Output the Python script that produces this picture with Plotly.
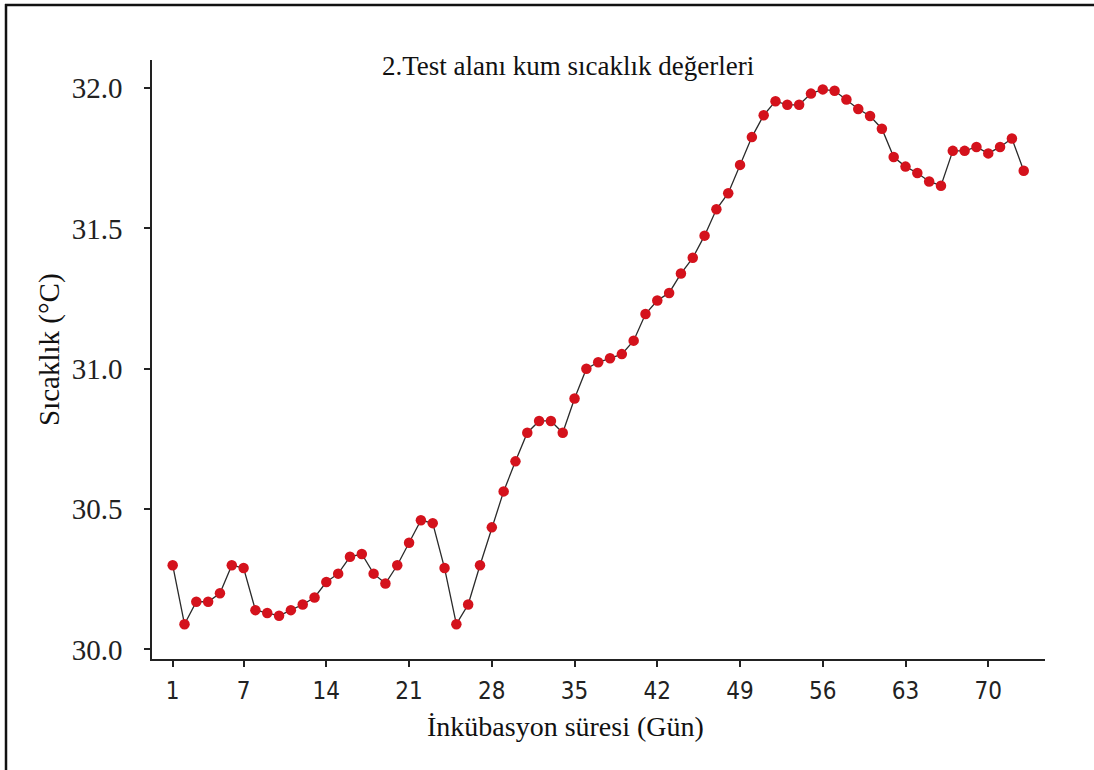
import plotly.graph_objects as go

days = list(range(1, 74))
temps = [
    30.30, 30.09, 30.17, 30.17, 30.20, 30.30, 30.29, 30.14, 30.13, 30.12,
    30.14, 30.16, 30.185, 30.24, 30.27, 30.33, 30.34, 30.27, 30.235, 30.30,
    30.38, 30.46, 30.45, 30.29, 30.09, 30.16, 30.30, 30.435, 30.563, 30.67,
    30.772, 30.814, 30.814, 30.772, 30.894, 31.00, 31.023, 31.037, 31.052, 31.10,
    31.195, 31.243, 31.27, 31.339, 31.395, 31.474, 31.568, 31.625, 31.726, 31.825,
    31.903, 31.953, 31.94, 31.94, 31.98, 31.995, 31.99, 31.959, 31.925, 31.90,
    31.855, 31.754, 31.72, 31.697, 31.667, 31.652, 31.776, 31.776, 31.79, 31.767,
    31.79, 31.82, 31.705,
]
x_ticks = [1, 7, 14, 21, 28, 35, 42, 49, 56, 63, 70]
y_ticks = [30.0, 30.5, 31.0, 31.5, 32.0]

title_text = "2.Test alanı kum sıcaklık değerleri"
x_title = "İnkübasyon süresi (Gün)"
y_title = "Sıcaklık (°C)"

W, H = 1094, 770
L, R, T, B = 152, 49, 60, 111
pw, ph = W - L - R, H - T - B

def px(xp):
    return (xp - L) / pw

def py(yp):
    return (H - B - yp) / ph

fig = go.Figure()
fig.add_trace(go.Scatter(
    x=days, y=temps, mode="lines+markers",
    line=dict(color="#2a2a2a", width=1.3),
    marker=dict(color="#d4121c", size=10.5, line=dict(width=0)),
    hoverinfo="x+y", showlegend=False,
))

fig.update_layout(
    width=W, height=H, autosize=False,
    margin=dict(l=L, r=R, t=T, b=B, pad=0),
    paper_bgcolor="white", plot_bgcolor="white",
    xaxis=dict(
        range=[-0.75, 74.8], tickmode="array", tickvals=x_ticks,
        ticktext=[str(v) for v in x_ticks],
        showgrid=False, zeroline=False, showline=True, linecolor="#222",
        linewidth=1.5, ticks="outside", ticklen=6, tickwidth=1.5, tickcolor="#222",
        tickfont=dict(family="DejaVu Sans Condensed, DejaVu Sans", size=24, color="#222"),
        ticklabelstandoff=3,
    ),
    yaxis=dict(
        range=[29.966, 32.0997], tickmode="array", tickvals=y_ticks,
        ticktext=["%.1f" % v for v in y_ticks],
        showgrid=False, zeroline=False, showline=True, linecolor="#222",
        linewidth=1.5, ticks="outside", ticklen=6, tickwidth=1.5, tickcolor="#222",
        tickfont=dict(family="Liberation Serif", size=29, color="#222"),
        ticklabelstandoff=16,
    ),
    annotations=[
        dict(text=title_text, x=px(568), y=py(66), xref="paper", yref="paper",
             xanchor="center", yanchor="middle", showarrow=False,
             font=dict(family="Liberation Serif", size=27, color="#111")),
        dict(text=x_title, x=px(565), y=py(726), xref="paper", yref="paper",
             xanchor="center", yanchor="middle", showarrow=False,
             font=dict(family="Liberation Serif", size=28, color="#111")),
        dict(text=y_title, x=px(50), y=py(350), xref="paper", yref="paper",
             xanchor="center", yanchor="middle", showarrow=False, textangle=-90,
             font=dict(family="Liberation Serif", size=29, color="#111")),
    ],
    shapes=[
        dict(type="line", xref="paper", yref="paper", x0=px(5), x1=px(1100),
             y0=py(5), y1=py(5), line=dict(color="#111", width=2.5)),
        dict(type="line", xref="paper", yref="paper", x0=px(6), x1=px(6),
             y0=py(4), y1=py(775), line=dict(color="#111", width=2.5)),
    ],
)

fig.write_html("out.html", config={"displayModeBar": False},
               post_script="document.body.style.margin='0px';")
